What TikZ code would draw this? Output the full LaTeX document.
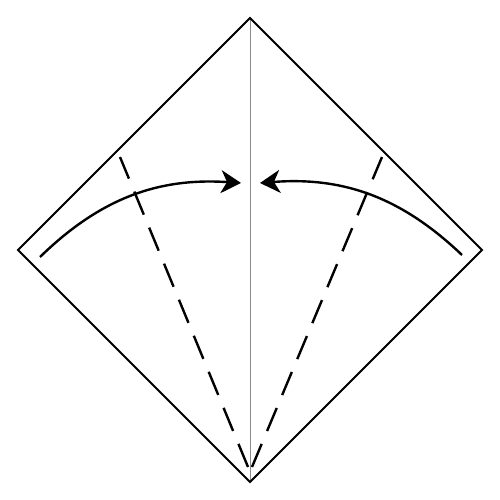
\documentclass[tikz,border=0pt]{standalone}
\usetikzlibrary{arrows.meta}

\begin{document}
\begin{tikzpicture}[x=1pt, y=1pt, thick,
    edge/.style = {line width=2pt, line join=miter},
    crease/.style = {line width=0.9pt, black!45},
    valley/.style = {line width=2.4pt, dash pattern=on 25pt off 14pt},
    fold/.style = {line width=2.4pt, -{Stealth[length=20pt, width=23pt, inset=6pt]}}]
      \useasboundingbox (0,0) rectangle (500,500);
      \coordinate (T) at (250,482);
      \coordinate (L) at (18,250);
      \coordinate (R) at (482,250);
      \coordinate (B) at (250,18);

      \draw[crease] (T) -- (B);
      \draw[edge] (T) -- (L) -- (B) -- (R) -- cycle;

      \coordinate (b1) at (248,33);
      \coordinate (t1) at (120,343);
      \coordinate (b2) at (252,33);
      \coordinate (t2) at (382,343);
      \draw[valley] (b1) -- (t1);
      \draw[valley] (b2) -- (t2);

      \coordinate (s1) at (40,243);
      \coordinate (e1) at (241,317);
      \coordinate (s2) at (462,245);
      \coordinate (e2) at (260,317);
      \draw[fold] (s1) to[bend left=24] (e1);
      \draw[fold] (s2) to[bend right=24] (e2);
    \end{tikzpicture}
\end{document}
